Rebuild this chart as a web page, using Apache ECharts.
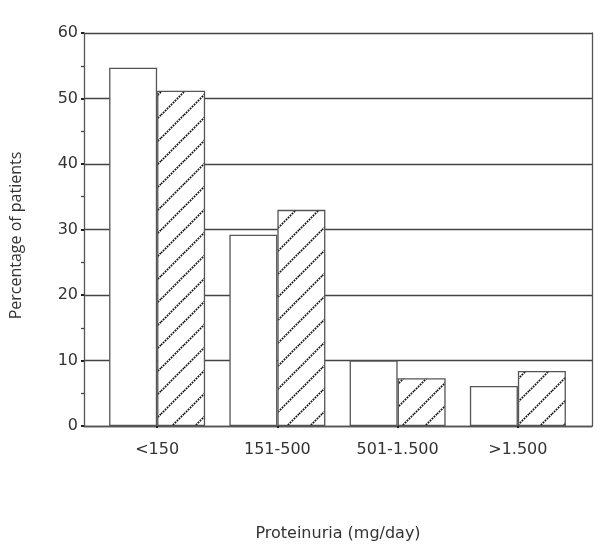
<!DOCTYPE html>
<html>
<head>
<meta charset="utf-8">
<script src="https://cdn.jsdelivr.net/npm/echarts@6/dist/echarts.min.js"></script>
<style>html,body{margin:0;padding:0;background:#fff;}#c{width:600px;height:559px;}</style>
</head>
<body>
<div id="c"></div>
<script>
var categories = ['<150', '151-500', '501-1.500', '>1.500'];
var openBars = [54.7, 29.2, 10, 6.1];
var hatchedBars = [51.2, 33.0, 7.3, 8.4];
var yMin = 0, yMax = 60, yStep = 10;

function hatch() {
  var s = 23;
  var cv = document.createElement('canvas');
  cv.width = s; cv.height = s;
  var g = cv.getContext('2d');
  g.fillStyle = '#fff';
  g.fillRect(0, 0, s, s);
  g.strokeStyle = '#111';
  g.lineWidth = 1.7;
  g.setLineDash([1.8, 1.0]);
  g.beginPath();
  g.moveTo(-2, s + 2); g.lineTo(s + 2, -2);
  g.moveTo(-2, 2); g.lineTo(2, -2);
  g.moveTo(s - 2, s + 2); g.lineTo(s + 2, s - 2);
  g.stroke();
  return cv;
}

var fontH = '"DejaVu Sans", sans-serif';
var fontV = '"Open Sans", "DejaVu Sans", sans-serif';
var lineCol = '#555';
var chart = echarts.init(document.getElementById('c'));
chart.setOption({
  animation: false,
  backgroundColor: '#fff',
  grid: [
    {left: 82, right: 8, top: 33, bottom: 133},
    {left: 97, right: 22, top: 33, bottom: 133}
  ],
  xAxis: [
    {gridIndex: 0, type: 'category', data: categories,
     axisLine: {lineStyle: {color: lineCol, width: 1.3}},
     axisTick: {show: false}, axisLabel: {show: false},
     name: 'Proteinuria (mg/day)', nameLocation: 'middle', nameGap: 100,
     nameTextStyle: {fontFamily: fontH, fontSize: 16, color: '#333'}},
    {gridIndex: 1, type: 'category', data: categories,
     axisLine: {show: false},
     axisTick: {show: true, alignWithLabel: true, length: 2, lineStyle: {color: '#222', width: 2}},
     axisLabel: {fontFamily: fontH, fontSize: 16, color: '#333', margin: 16}}
  ],
  yAxis: [
    {gridIndex: 0, type: 'value', min: yMin, max: yMax, interval: yStep,
     axisLine: {show: true, lineStyle: {color: lineCol, width: 1.3}},
     axisTick: {show: true, length: 3, lineStyle: {color: '#222', width: 2}},
     minorTick: {show: true, splitNumber: 2, length: 3, lineStyle: {color: '#444', width: 1.3}},
     axisLabel: {fontFamily: fontH, fontSize: 16, color: '#333', margin: 6},
     splitLine: {show: true, lineStyle: {color: '#444', width: 1.3}},
     name: 'Percentage of patients', nameLocation: 'middle', nameGap: 60,
     nameTextStyle: {fontFamily: fontV, fontSize: 16, color: '#333', padding: [0, 0, 0, -12]}},
    {gridIndex: 0, type: 'value', min: yMin, max: yMax, interval: yStep, position: 'right',
     axisLine: {show: true, lineStyle: {color: lineCol, width: 1.3}},
     axisTick: {show: false}, axisLabel: {show: false}, splitLine: {show: false}},
    {gridIndex: 1, type: 'value', min: yMin, max: yMax, interval: yStep, show: false}
  ],
  series: [
    {type: 'bar', xAxisIndex: 1, yAxisIndex: 2, data: openBars,
     barWidth: 48, barGap: '0%',
     itemStyle: {color: '#fff', borderColor: lineCol, borderWidth: 1.3}},
    {type: 'bar', xAxisIndex: 1, yAxisIndex: 2, data: hatchedBars,
     barWidth: 48, barGap: '0%',
     itemStyle: {color: {image: hatch(), repeat: 'repeat'}, borderColor: lineCol, borderWidth: 1.3}}
  ]
});
</script>
</body>
</html>
